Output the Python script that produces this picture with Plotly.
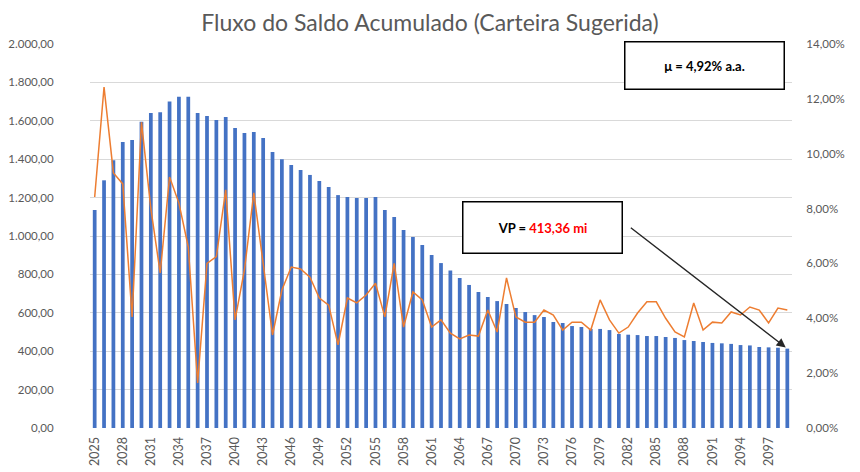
import plotly.graph_objects as go

years = list(range(2025, 2100))

saldo = [1135, 1290, 1395, 1490, 1500, 1595, 1640, 1645, 1700, 1725,
         1725, 1640, 1625, 1604, 1620, 1562, 1536, 1542, 1510, 1438,
         1400, 1370, 1344, 1318, 1287, 1255, 1213, 1203, 1198, 1198,
         1203, 1135, 1099, 1031, 995, 953, 901, 859, 820, 781,
         745, 708, 682, 661, 646, 625, 604, 588, 578, 552,
         547, 531, 526, 516, 516, 510, 490, 486, 484, 479,
         479, 474, 469, 458, 453, 448, 443, 441, 438, 432,
         430, 422, 420, 418, 413.36]

taxa = [8.42, 12.43, 9.3, 8.9, 4.05, 11.15, 8.0, 5.65, 9.15, 8.2,
        6.6, 1.64, 6.0, 6.25, 8.68, 3.94, 5.76, 8.57, 6.0, 3.39,
        5.03, 5.87, 5.8, 5.5, 4.74, 4.48, 3.03, 4.74, 4.56, 4.85,
        5.28, 4.05, 6.0, 3.68, 4.96, 4.67, 3.68, 3.94, 3.46, 3.25,
        3.39, 3.35, 4.3, 3.5, 5.47, 4.05, 3.86, 3.86, 4.3, 4.12,
        3.57, 3.86, 3.86, 3.57, 4.67, 3.94, 3.46, 3.68, 4.19, 4.6,
        4.6, 4.0, 3.5, 3.32, 4.56, 3.57, 3.86, 3.83, 4.23, 4.12,
        4.41, 4.3, 3.83, 4.37, 4.3]
taxa_frac = [t / 100 for t in taxa]

tick_years = list(range(2025, 2098, 3))
left_ticks = list(range(0, 2001, 200))
right_ticks = [0, 0.02, 0.04, 0.06, 0.08, 0.10, 0.12, 0.14]

title_text = "Fluxo do Saldo Acumulado (Carteira Sugerida)"
mu_text = "<b>μ = 4,92% a.a.</b>"
vp_text = "<b>VP = <span style='color:#FF0000'>413,36 mi</span></b>"

gray = "#595959"
fnt = "Lato"
clear = "rgba(0,0,0,0)"

# page body has an 8px default margin, so the figure is offset by 8px
W, H = 852, 464

fig = go.Figure()
fig.add_trace(go.Bar(x=years, y=saldo, marker_color="#4472C4", width=0.4,
                     marker_line_width=0, name="Saldo"))
fig.add_trace(go.Scatter(x=years, y=taxa_frac, yaxis="y2", mode="lines",
                         line=dict(color="#ED7D31", width=1.5), name="Taxa"))

fig.update_layout(
    width=W, height=H,
    margin=dict(l=82, r=68, t=36, b=44, autoexpand=False),
    paper_bgcolor="white", plot_bgcolor="white",
    separators=",.",
    showlegend=False,
    font=dict(family=fnt, color=gray, size=11),
    title=dict(text=title_text, x=(430 - 8) / W, xanchor="center",
               y=1 - 15 / H, yanchor="middle", yref="container",
               font=dict(family=fnt, size=23, color=gray)),
    xaxis=dict(range=[2024.5, 2099.5], tickmode="array", tickvals=tick_years,
               ticktext=[str(y) for y in tick_years], tickangle=-90,
               showgrid=False, zeroline=False, showline=False,
               ticks="outside", ticklen=3, tickcolor=clear, automargin=False,
               tickfont=dict(size=12.5, color=gray)),
    yaxis=dict(range=[0, 2000], tickmode="array", tickvals=left_ticks,
               tickformat=",.2f", showgrid=True, gridcolor="#D9D9D9",
               gridwidth=1, zeroline=False, showline=False,
               ticks="outside", ticklen=33, tickcolor=clear, automargin=False,
               tickfont=dict(size=11.5, color=gray)),
    yaxis2=dict(range=[0, 0.14], overlaying="y", side="right", tickmode="array",
                tickvals=right_ticks, tickformat=".2%", showgrid=False,
                zeroline=False, showline=False,
                ticks="outside", ticklen=11, tickcolor=clear, automargin=False,
                tickfont=dict(size=11.5, color=gray)),
)

fig.add_annotation(xref="paper", yref="paper", x=(704 - 90) / 702,
                   y=(428 - 66) / 384, xanchor="center", yanchor="middle",
                   text=mu_text, showarrow=False,
                   font=dict(family=fnt, size=13, color="black"),
                   bgcolor="white", bordercolor="black", borderwidth=1.5,
                   width=156, height=44, valign="middle", borderpad=1)
fig.add_annotation(xref="paper", yref="paper", x=(542 - 90) / 702,
                   y=(428 - 227) / 384, xanchor="center", yanchor="middle",
                   text=vp_text, showarrow=False,
                   font=dict(family=fnt, size=13, color="black"),
                   bgcolor="white", bordercolor="black", borderwidth=1.5,
                   width=156, height=48, valign="middle", borderpad=1)
fig.add_annotation(x=years[-1], y=saldo[-1], xref="x", yref="y",
                   ax=-158, ay=-122, text="", showarrow=True,
                   arrowhead=2, arrowsize=1.3, arrowwidth=1.4,
                   arrowcolor="#262626", standoff=2)

fig.write_html("out.html")
